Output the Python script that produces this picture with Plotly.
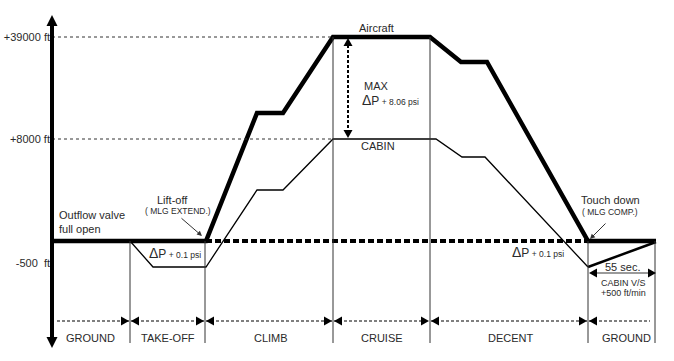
import plotly.graph_objects as go

# ---------------- data (schematic units: 1 unit = 1 px of the diagram) ----------------
phase_names = ["GROUND", "TAKE-OFF", "CLIMB", "CRUISE", "DECENT", "GROUND"]
phase_bounds = [52, 130, 205, 333, 430, 588, 655]
phase_label_x = [90, 168, 271, 382, 511, 626]
divider_tops = [0, 0, 204, 204, 0, 0]          # top of each phase divider line

alt_levels = [204, 102, -22]                    # +39000 ft, +8000 ft, -500 ft
alt_labels = ["+39000 ft", "+8000 ft", "-500 &nbsp;ft"]

aircraft_t = [52, 206, 257, 283, 333, 430, 461, 487, 588, 656]
aircraft_h = [0, 0, 128, 128, 204, 204, 179, 179, 0, 0]

cabin_t = [130, 153, 206, 257, 283, 333, 436, 462, 485, 588]
cabin_h = [0, -26, -26, 51, 51, 102, 102, 84, 84, -26]

cabin_ground_t = [588, 656]
cabin_ground_h = [-26, -1]

dp_ref_t = [206, 588]       # delta-P reference line at ground
dp_ref_h = [0, 0]

TXT = "#2a2a2a"
FONT = "Arial, Liberation Sans, sans-serif"

fig = go.Figure()
shapes = []

def line(x0, y0, x1, y1, width=1, color="#222", dash="solid"):
    shapes.append(dict(type="line", xref="x", yref="y", x0=x0, y0=y0, x1=x1, y1=y1,
                       line=dict(width=width, color=color, dash=dash), layer="above"))

def tri(tx, ty, d, L=8, hw=4.5, color="black"):
    # triangle with tip at (tx,ty), pointing in direction d
    if d == "r":
        pts = [(tx, ty), (tx - L, ty + hw), (tx - L, ty - hw)]
    elif d == "l":
        pts = [(tx, ty), (tx + L, ty + hw), (tx + L, ty - hw)]
    elif d == "u":
        pts = [(tx, ty), (tx - hw, ty - L), (tx + hw, ty - L)]
    else:
        pts = [(tx, ty), (tx - hw, ty + L), (tx + hw, ty + L)]
    path = "M " + " L ".join(f"{x},{y}" for x, y in pts) + " Z"
    shapes.append(dict(type="path", xref="x", yref="y", path=path,
                       fillcolor=color, line=dict(width=0), layer="above"))

# reference dashed altitude lines
for lvl in alt_levels[:2]:
    line(phase_bounds[0], lvl, phase_bounds[3], lvl, 1, "#333", "3px,3px")

# phase dividers
for xb, top in zip(phase_bounds[1:], divider_tops):
    line(xb, top, xb, -102, 1, "#333")

# phase arrows
arrow_y = -80
for i in range(len(phase_names)):
    x0 = phase_bounds[i] + (5 if i == 0 else 1)
    x1 = phase_bounds[i + 1] - (5 if i == len(phase_names) - 1 else 1)
    line(x0, arrow_y, x1, arrow_y, 1.2, "black", "3px,2px")
    if i > 0:
        tri(phase_bounds[i] + 1, arrow_y, "l")
    if i < len(phase_names) - 1:
        tri(phase_bounds[i + 1] - 1, arrow_y, "r")

# vertical axis with arrowheads
line(phase_bounds[0], -100, phase_bounds[0], 218, 4, "black")
tri(phase_bounds[0], 226, "u", L=11, hw=5.5)
tri(phase_bounds[0], -107, "d", L=11, hw=5.5)

# MAX delta-P arrow
line(348, 196, 348, 110, 2, "black", "3px,2px")
tri(348, 203, "u", L=8, hw=4.5)
tri(348, 103, "d", L=8, hw=4.5)

# 55 sec arrow
line(595, -32, 650, -32, 2, "#9a9a9a")
tri(589, -32, "l", L=8, hw=4.5)
tri(656, -32, "r", L=8, hw=4.5)

# ---------------- traces ----------------
fig.add_trace(go.Scatter(x=cabin_t, y=cabin_h, mode="lines",
                         line=dict(color="black", width=1.3), hoverinfo="skip"))
fig.add_trace(go.Scatter(x=cabin_ground_t, y=cabin_ground_h, mode="lines",
                         line=dict(color="black", width=2.5), hoverinfo="skip"))
fig.add_trace(go.Scatter(x=dp_ref_t, y=dp_ref_h, mode="lines",
                         line=dict(color="black", width=4, dash="6px,3px"), hoverinfo="skip"))
fig.add_trace(go.Scatter(x=aircraft_t, y=aircraft_h, mode="lines",
                         line=dict(color="black", width=4.5), hoverinfo="skip"))

# ---------------- text ----------------
ann = []

def text(x, y, s, size=11, xanchor="center"):
    ann.append(dict(x=x, y=y, xref="x", yref="y", text=s, showarrow=False,
                    xanchor=xanchor, yanchor="middle", align=xanchor,
                    font=dict(size=size, color=TXT, family=FONT)))

for name, lx in zip(phase_names, phase_label_x):
    text(lx, -97, name)

text(57, 19, "Outflow valve<br>full open", 11, "left")
text(172, 41, "Lift-off", 11)
text(178, 30, "( MLG EXTEND.)", 8.5)
text(175, -12, "<span style='font-size:14px'>Δ</span><span style='font-size:12px'>P</span> + 0.1 psi", 8.5)
text(376, 213, "Aircraft", 11)
text(362, 155, "MAX", 11, "left")
text(360, 141, "<span style='font-size:14px'>Δ</span><span style='font-size:12px'>P</span> + 8.06 psi", 8.5, "left")
text(378, 95, "CABIN", 11)
text(538, -11, "<span style='font-size:14px'>Δ</span><span style='font-size:12px'>P</span> + 0.1 psi", 8.5)
text(610, 41, "Touch down", 11)
text(610, 29, "( MLG COMP.)", 8.5)
text(622, -26, "55 sec.", 11)
text(623, -42, "CABIN V/S", 9)
text(623, -52, "+500 ft/min", 9)

# pointer arrows
for (tx, ty, ax, ay) in [(202, 5, 180, 24), (590, 2, 607, 19)]:
    ann.append(dict(x=tx, y=ty, ax=ax, ay=ay, xref="x", yref="y", axref="x", ayref="y",
                    text="", showarrow=True, arrowhead=2, arrowsize=1, arrowwidth=1,
                    arrowcolor="#333"))

fig.update_layout(
    width=674, height=361,
    margin=dict(l=0, r=0, t=0, b=0, autoexpand=False),
    plot_bgcolor="white", paper_bgcolor="white",
    showlegend=False,
    shapes=shapes, annotations=ann,
    xaxis=dict(range=[0, 674], visible=False, fixedrange=True, automargin=False),
    yaxis=dict(range=[-120, 241], anchor="free", position=52 / 674, automargin=False,
               tickvals=alt_levels, ticktext=alt_labels, ticks="", ticklabelstandoff=2,
               showgrid=False, zeroline=False, showline=False,
               tickfont=dict(size=11, color=TXT, family=FONT), fixedrange=True),
)

fig.write_html("out.html", config={"displayModeBar": False},
               post_script="document.body.style.margin='0';document.body.style.overflow='hidden';")
